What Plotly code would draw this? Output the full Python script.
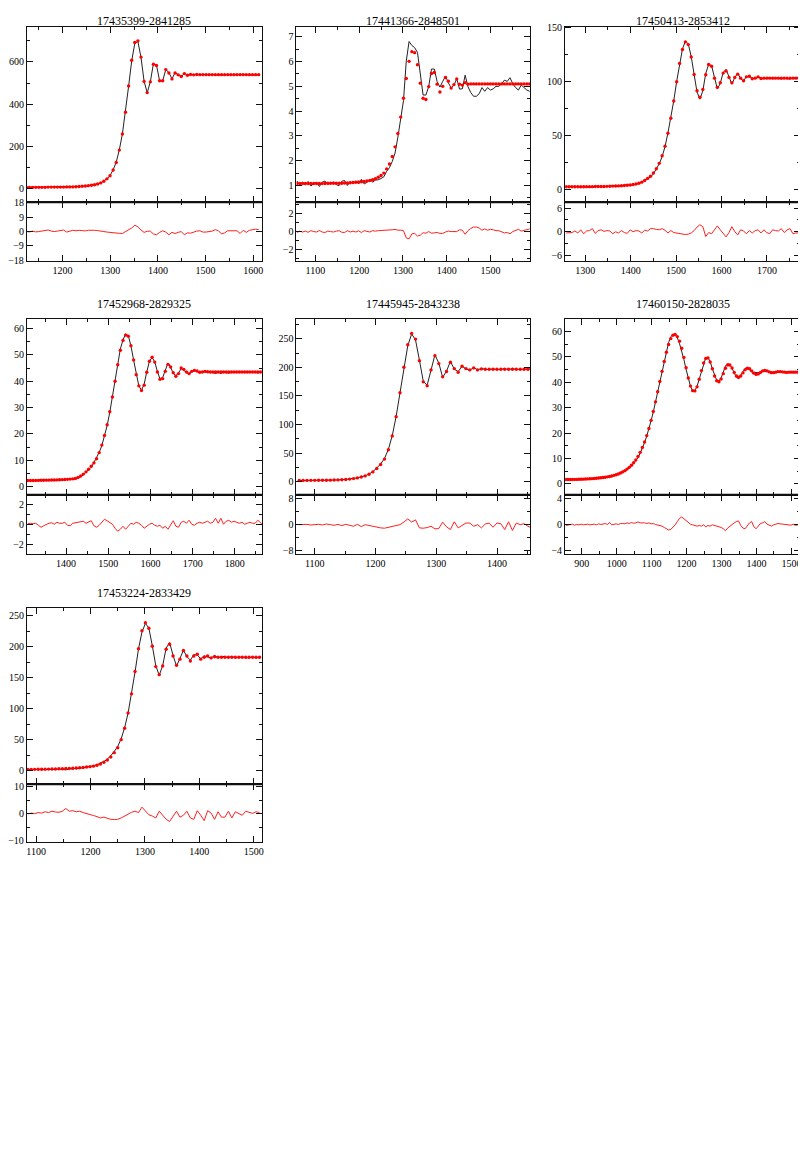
import plotly.graph_objects as go

# page body has an 8px margin; figure is sized to fit the 806x1156 window
OFF = 8
W, H = 806 - OFF, 1156 - OFF

titles = ["17435399-2841285", "17441366-2848501", "17450413-2853412",
          "17452968-2829325", "17445945-2843238", "17460150-2828035",
          "17453224-2833429"]

# ---- panel 1 ----
p1_x0, p1_dx = 1124.0, 6.5
p1_fit = [7, 7, 7, 7, 7, 7, 7, 8, 8, 8, 8, 8, 8, 9, 9, 9, 10, 11, 12, 13,
          15, 17, 19, 23, 28, 36, 47, 62, 89, 125, 183, 259, 362, 486, 608, 692, 700,
          623, 508, 455, 506, 589, 583, 511, 511, 564, 548, 520, 548, 539, 531, 545, 537, 541, 539, 541,
          540, 540, 540, 540, 540, 540, 540, 540, 540, 540, 540, 540, 540, 540, 540, 540, 540, 540, 540, 540]
p1_res = [0, -0.2, 0.3, -0.2, 0, 0.3, 0.5, 1.0, 0.3, 0,
          0.3, 0.6, 1.0, -0.3, 0.5, 0.8, 0.5, 0.8, 0.6, 0.4,
          0.8, 1.0, 0.8, 0.6, 0.5, 0, -0.3, -0.6, -0.8, -1.0,
          -1.1, -1.2, -0.2, 1.0, 2.3, 4.0, 3.0, 1.0, -0.5, 0.2,
          0.3, -1.5, -2.0, -0.5, 0.5, -0.3, -2.0, -0.5, -1.2, -0.5,
          0, -2.0, -0.8, -1.0, -0.3, 0.3, 0.5, -0.3, -0.3, 0,
          0.3, 1.2, 0.5, -1.5, -0.8, 0.5, 0.3, 0.5, 0.5, -1.2,
          0.8, -0.5, 0.8, 1.0, 1.5, 1.2]

# ---- panel 2 ----
p2_x0, p2_dx = 1058.0, 6.4
p2_fit = [1.08, 1.08, 1.08, 1.08, 1.08, 1.08, 1.08, 1.08, 1.08, 1.08, 1.08,
          1.09, 1.09, 1.09, 1.09, 1.09, 1.09, 1.10, 1.10, 1.11,
          1.12, 1.13, 1.14, 1.15, 1.16, 1.18, 1.20, 1.23, 1.27, 1.33,
          1.40, 1.50, 1.67, 1.87, 2.17, 2.56, 3.10, 3.76, 4.52, 5.32,
          6.01, 6.40, 6.36, 5.87, 5.13, 4.52, 4.47, 4.99, 5.52, 5.56,
          5.09, 4.77, 5.00, 5.36, 5.21, 4.93, 5.07, 5.30, 5.09, 5.05,
          5.15, 5.09,
          5.1, 5.1, 5.1, 5.1, 5.1, 5.1, 5.1, 5.1, 5.1, 5.1, 5.1,
          5.1, 5.1, 5.1, 5.1, 5.1, 5.1, 5.1, 5.1, 5.1, 5.1, 5.1]
p2_res = [-0.1, 0.05, -0.05, 0.05, -0.08, 0.1, 0, -0.05, 0.12, -0.05,
          -0.1, 0.05, 0, -0.05, 0.05, 0.1, -0.08, -0.1, 0.1, -0.05,
          0.05, -0.05, 0.08, -0.1, 0.1, 0.05, -0.05, 0.1, 0.05, 0.1,
          0.12, 0.15, 0.1, 0.15, 0.2, 0.25, 0.15, 0.16, 0.1, -0.7,
          -0.8, -0.25, -0.2, -0.5, -0.4, -0.13, -0.18, 0, -0.18, -0.14,
          -0.1, -0.2, -0.2, -0.05, 0.06, 0, 0.02, 0, 0.2, 0.15,
          -0.3, 0.1, 0.35, 0.5, 0.5, 0.4, 0.15, 0.3, 0.15, 0.25,
          0.2, 0.1, 0.1, 0, -0.15, -0.1, -0.25, 0, 0.15, 0.25,
          0.05, 0.15, 0.25, 0.3]

# ---- panel 3 ----
p3_x0, p3_dx = 1258.0, 6.4
p3_fit = [2.2, 2.2, 2.2, 2.2, 2.2, 2.2, 2.2, 2.3, 2.3, 2.3,
          2.4, 2.4, 2.5, 2.5, 2.6, 2.7, 2.8, 2.9, 3.0, 3.2,
          3.4, 3.6, 3.9, 4.3, 4.8, 5.5, 6.5, 8, 10, 12,
          15, 19, 24, 31, 40, 52, 66, 82, 100, 117,
          130, 137, 134.5, 123, 106.7, 91.6, 85.5, 92.8, 106.4, 116,
          114.4, 103.3, 94.7, 99, 108, 110, 104, 99, 104, 107,
          103.3, 100.8, 104.5, 105, 102.7, 103.3, 104.5, 103,
          103.3, 103.3, 103.3, 103.3, 103.3, 103.3, 103.3, 103.3, 103.3, 103.3, 103.3, 103.3, 103.3]
p3_res = [-0.3, -0.3, -0.2, 0.2, -0.3, 0.5, -0.5, 0.2, 0.3, 0.8,
          -0.4, 0.3, 0.5, 0.1, 0.3, 0.2, -0.5, 0, -0.3, 0.3,
          -0.2, -0.4, 0.5, 0, 0.3, 0.2, -0.3, 0.4, 0.2, 0.8,
          0.8, 0.6, 0.5, 0.8, 0.4, -0.3, 0.3, -0.2, -0.3, -0.5,
          -0.5, -0.7, -0.6, -0.3, 0.3, 1.2, 1.8, 1.3, -1.2, -0.2,
          -0.5, 0.5, 1.5, 0.5, -0.5, -1.3, -0.2, 1.3, 0, -0.8,
          0.5, 0.2, -0.5, 0.3, -0.3, 0.3, 0.5, -0.3, 0.5, -0.2,
          -0.5, 0.5, 0.3, 0.2, 0.8, -0.2, 0.5, 0.8, -0.5, -0.3, -0.3]

# ---- panel 4 ----
p4_x0, p4_dx = 1309.2, 6.27
p4_fit = [2.3, 2.3, 2.3, 2.35, 2.35, 2.4, 2.4, 2.45, 2.45, 2.5, 2.5, 2.55, 2.6, 2.65, 2.7,
          2.75, 2.85, 2.95, 3.1, 3.5, 4.0, 4.75, 5.6, 6.6, 7.75, 9.0, 10.6, 12.9, 15.75, 19.4,
          23.5, 28.4, 34.0, 40.0, 46.25, 51.75, 55.5, 57.5,
          57.1, 53.5, 48.1, 42.5, 38.25, 36.5, 38.5, 43.4, 47.6, 49.1, 47.25, 43.5, 40.75, 41.0,
          43.75, 46.4, 45.4, 43.25, 41.9, 42.9, 45.0, 44.5, 43.5, 42.9, 43.75, 44.1, 43.9, 43.4,
          43.5, 43.75, 43.6,
          43.5, 43.5, 43.5, 43.5, 43.5, 43.5, 43.5, 43.5, 43.5, 43.5, 43.5,
          43.5, 43.5, 43.5, 43.5, 43.5, 43.5, 43.5, 43.5, 43.5, 43.5]
p4_res = [0.05, 0.1, 0.05, 0.1, -0.1, -0.3, -0.15, 0, 0.1, 0.15,
          0, 0.2, 0.1, 0.1, 0.2, -0.1, -0.15, 0.1, 0.15, 0.2,
          0.2, 0.3, 0.1, 0.2, 0.35, -0.15, -0.3, -0.1, 0.2, 0.5,
          0.35, 0.2, 0, -0.4, -0.7, -0.5, -0.2, -0.5, -0.2, 0.1,
          0, 0.2, 0.1, -0.1, -0.4, -0.2, 0, 0.1, -0.1, -0.2,
          -0.1, -0.4, -0.2, -0.5, 0, 0.35, -0.2, -0.3, 0.2, 0.3,
          0.1, 0.4, 0, -0.1, 0.1, 0.2, 0.1, 0.2, 0.3, 0.1,
          0.2, 0.6, 0.1, 0.6, 0, 0.3, 0.4, 0.2, 0.3, 0.2,
          0.1, 0.2, 0, 0.1, 0.2, 0.1, 0.1, 0.4, 0.1, -0.1]

# ---- panel 5 ----
p5_x0, p5_dx = 1074.5, 6.38
p5_fit = [2.0, 2.1, 2.1, 2.2, 2.2, 2.3, 2.4, 2.5, 2.6, 2.8,
          3.0, 3.3, 3.8, 4.4, 5.3, 6.5, 8, 10, 13, 17,
          23, 30, 39.4, 55.7, 80, 113.7, 155.5, 200, 239.6, 259.3,
          249.4, 211.7, 174.6, 167.6, 195.5, 220.4, 206.5, 183.3, 192.6, 208.8,
          197.8, 191.4, 201.8, 197.8, 195.5, 199, 195.5, 197.2,
          196.5, 196.5, 196.5, 196.5, 196.5, 196.5, 196.5, 196.5, 196.5, 196.5, 196.5, 196.5, 196.5]
p5_res = [0, 0.1, 0.1, -0.1, 0, 0.1, -0.1, 0.2, 0, -0.2,
          0.1, -0.3, 0.1, -0.2, -0.5, 0.1, -0.6, 0, -0.3, -0.5,
          -0.8, -1.0, -1.1, -0.8, -0.5, -0.4, 0, 0.8, 1.8, 0.8,
          1.5, -1.0, -1.1, -0.9, -0.5, -1.3, -1.2, 0.8, -0.7, -1.5,
          0.9, -1.0, -0.2, 0.5, 0.5, -0.5, 0, -1.0, 0.2, 0.5,
          -0.8, 0.5, 0.3, -1.5, 0.9, -1.8, 0.5, 0, 0.3, -0.5, -1.0]

# ---- panel 6 ----
p6_x0, p6_dx = 854.5, 6.256
p6_fit = [1.7, 1.7, 1.7, 1.7, 1.75, 1.75, 1.8, 1.8, 1.85, 1.9,
          1.95, 2.0, 2.05, 2.1, 2.2, 2.3, 2.4, 2.5, 2.6, 2.75,
          2.9, 3.1, 3.35, 3.6, 3.9, 4.25, 4.7, 5.2, 5.8, 6.5,
          7.3, 8.3, 9.4, 10.8, 12.4, 14.3, 16.5, 19.0, 21.8, 25.0,
          28.5, 32.3, 36.3, 40.3, 44.3, 48.2, 51.8, 54.9, 57.2, 58.5,
          58.8, 58.0, 56.2, 53.4, 49.8, 45.7, 41.7, 38.5, 36.7, 36.6,
          38.2, 41.2, 44.6, 47.6, 49.4, 49.6, 48.0, 45.3, 42.5, 40.6,
          40.2, 41.3, 43.4, 45.5, 46.8, 46.8, 45.6, 43.9, 42.5, 42.0,
          42.5, 43.7, 44.9, 45.5, 45.3, 44.5, 43.6, 43.1, 43.3, 43.9,
          44.5, 44.7, 44.5, 44.1, 43.8, 43.8, 44.0, 44.2, 44.2, 44.1,
          44.0, 43.9, 44.0, 44.0, 44.0, 44.0, 44.0, 44.0]
p6_res = [-0.1, -0.05, 0.05, 0.1, -0.05, 0.05, 0, 0.1, 0, 0.05,
          0.1, 0, 0.05, 0.1, 0, 0.15, 0.05, 0.1, 0.2, 0.05,
          0.35, 0, 0.1, 0.15, 0.05, 0.2, 0.2, 0.15, 0.3, 0.2,
          0.35, 0.25, 0.3, 0.45, 0.3, 0.35, 0.3, 0.2, 0.3, 0.15,
          0.2, 0.05, 0, -0.1, -0.2, -0.4, -0.6, -0.8, -0.7, -0.4,
          0, 0.5, 1.0, 1.2, 0.9, 0.6, 0.3, 0.1, 0, -0.1,
          -0.2, -0.1, -0.2, 0, -0.3, -0.1, -0.2, 0, -0.1, -0.2,
          -0.2, -0.4, -0.6, -0.9, -0.5, -0.2, 0.1, 0.3, 0.5, 0.6,
          -0.1, -0.5, -0.6, -0.1, 0.3, 0.5, -0.3, -0.6, -0.2, 0.2,
          0.3, 0.5, 0.1, -0.1, -0.2, 0, 0.1, 0.2, 0.15, 0.1,
          0, 0.05, -0.1, -0.05, 0.1, -0.1, 0, -0.05]

# ---- panel 7 ----
p7_x0, p7_dx = 1084.7, 6.36
p7_fit = [1.8, 1.9, 2.0, 2.1, 2.2, 2.3, 2.4, 2.5, 2.7, 2.9,
          3.1, 3.3, 3.6, 3.9, 4.2, 4.6, 5.1, 5.7, 6.4, 7.2,
          8.6, 10.7, 13.4, 17, 22, 29, 37, 50, 68.5, 93,
          124, 160, 197, 226, 239,
          230, 201, 168, 155, 169, 196, 204, 185, 170, 180,
          194, 185, 177, 185, 188, 180, 183, 185, 182, 184, 183,
          183, 183, 183, 183, 183, 183, 183, 183, 183, 183, 183, 183]
p7_res = [0, 0.3, 0.1, 0.5, 0.3, 0.8, 0.5, 1.0, 0.7, 0.6,
          1.0, 2.0, 1.0, 1.2, 0.8, 1.0, 0.5, 0.2, -0.3, -0.6,
          -1.0, -1.5, -1.2, -1.6, -2.0, -2.1, -2.0, -1.5, -0.8, 0,
          0.6, 1.0, 0.5, 2.5, 1.2, -0.3, -0.8, -1.5, 1.0, -0.5,
          -2.0, -2.8, -1.0, 1.0, -1.2, -0.5, 1.0, -1.5, -2.0, 1.2,
          -0.5, -2.5, 1.2, 0.3, -2.0, 0.8, -1.2, -1.2, 1.0, -1.5,
          0.8, 0, -0.5, 1.0, 0.5, 0.2, 0.8, 0.5]

# ---- axes ----
x_ranges = [[1125, 1618], [1057, 1591], [1255.6, 1772.8], [1307, 1864],
            [1070, 1455], [852.5, 1524.5], [1083, 1515]]
y_ranges = [[-64, 766], [0.32, 7.4], [-12.3, 151], [-3.1, 63.5],
            [-23, 284], [-4.3, 64.8], [-22, 263]]
r_ranges = [[-18.3, 18.3], [-3.25, 3.25], [-7.4, 7.5], [-3.0, 2.95],
            [-9.2, 9.3], [-4.5, 4.6], [-10.3, 11]]
y_dticks = [(200, 100), (1, 0.5), (50, 25), (10, 5), (50, 25), (10, 5), (50, 25)]
r_dticks = [(9, None), (2, 1), (6, 3), (2, 1), (8, 4), (4, 2), (10, 5)]

panels = [(p1_x0, p1_dx, p1_fit, p1_res), (p2_x0, p2_dx, p2_fit, p2_res),
          (p3_x0, p3_dx, p3_fit, p3_res), (p4_x0, p4_dx, p4_fit, p4_res),
          (p5_x0, p5_dx, p5_fit, p5_res), (p6_x0, p6_dx, p6_fit, p6_res),
          (p7_x0, p7_dx, p7_fit, p7_res)]

# page-pixel positions of the frames (left, right) and (top, separator, bottom)
cols = [(22, 259), (294, 530), (565, 802)]
rows = [(22, 199, 258), (317, 494, 554), (608, 786, 844)]

FONT = "Liberation Serif"
fig = go.Figure()
layout = dict(width=W, height=H, autosize=False, margin=dict(l=0, r=0, t=0, b=0),
              paper_bgcolor="white", plot_bgcolor="white", showlegend=False,
              annotations=[], shapes=[])


def sfx(n):
    return "" if n == 1 else str(n)


def px(v):
    return (v - OFF) / W


def py(v):
    return 1 - (v - OFF) / H


def axis_common():
    return dict(showline=True, linecolor="#111111", linewidth=1, mirror="allticks",
                ticks="inside", tickcolor="#111111", tickwidth=1, showgrid=False,
                zeroline=False, tickfont=dict(family=FONT, size=10, color="black"))


for p, (x0, dx, fit, res) in enumerate(panels):
    r, c = divmod(p, 3)
    xl, xr = cols[c]
    yt, ys, yb = rows[r]
    m, q = 2 * p + 1, 2 * p + 2
    n = min(len(fit), len(res))
    xs = [x0 + k * dx for k in range(n)]
    obs = [fit[k] - res[k] for k in range(n)]

    xd = [px(xl), px(xr)]
    minor_x = dict(tick0=0, dtick=50, ticks="inside", ticklen=3, tickcolor="#111111")
    layout["xaxis" + sfx(m)] = dict(domain=xd, anchor="y" + sfx(m), range=x_ranges[p],
                                   tick0=0, dtick=100, ticklen=6, showticklabels=False,
                                   minor=minor_x, **axis_common())
    layout["xaxis" + sfx(q)] = dict(domain=xd, anchor="y" + sfx(q), range=x_ranges[p],
                                   tick0=0, dtick=100, ticklen=6, showticklabels=True,
                                   minor=dict(minor_x), **axis_common())
    ymaj, ymin = y_dticks[p]
    layout["yaxis" + sfx(m)] = dict(domain=[py(ys), py(yt)], anchor="x" + sfx(m),
                                   range=y_ranges[p], tick0=0, dtick=ymaj, ticklen=6,
                                   minor=dict(tick0=0, dtick=ymin, ticks="inside", ticklen=3,
                                              tickcolor="#111111"),
                                   **axis_common())
    rmaj, rmin = r_dticks[p]
    ry = dict(domain=[py(yb), py(ys)], anchor="x" + sfx(q),
              range=r_ranges[p], tick0=0, dtick=rmaj, ticklen=6, **axis_common())
    if rmin:
        ry["minor"] = dict(tick0=0, dtick=rmin, ticks="inside", ticklen=3, tickcolor="#111111")
    layout["yaxis" + sfx(q)] = ry

    fig.add_trace(go.Scatter(x=xs, y=obs, mode="lines", line=dict(color="#222222", width=1),
                             xaxis="x" + sfx(m), yaxis="y" + sfx(m), hoverinfo="skip"))
    fig.add_trace(go.Scatter(x=xs, y=fit, mode="markers",
                             marker=dict(color="#ff0000", size=3.4, line=dict(width=0)),
                             xaxis="x" + sfx(m), yaxis="y" + sfx(m), hoverinfo="skip"))
    fig.add_trace(go.Scatter(x=xs, y=res, mode="lines", line=dict(color="#ff2020", width=1),
                             xaxis="x" + sfx(q), yaxis="y" + sfx(q), hoverinfo="skip"))

    layout["shapes"].append(dict(type="line", xref="paper", yref="paper",
                                 x0=px(xl), x1=px(xr), y0=py(ys), y1=py(ys),
                                 line=dict(color="#111111", width=2)))
    # titles sit ~15px above each frame; the top row is kept inside the figure
    title_y = max(yt - 15, OFF + 8)
    layout["annotations"].append(dict(text=titles[p], xref="paper", yref="paper",
                                      x=px((xl + xr) / 2), y=py(title_y),
                                      xanchor="center", yanchor="middle", showarrow=False,
                                      font=dict(family=FONT, size=12, color="black")))

fig.update_layout(**layout)
fig.write_html("out.html")
